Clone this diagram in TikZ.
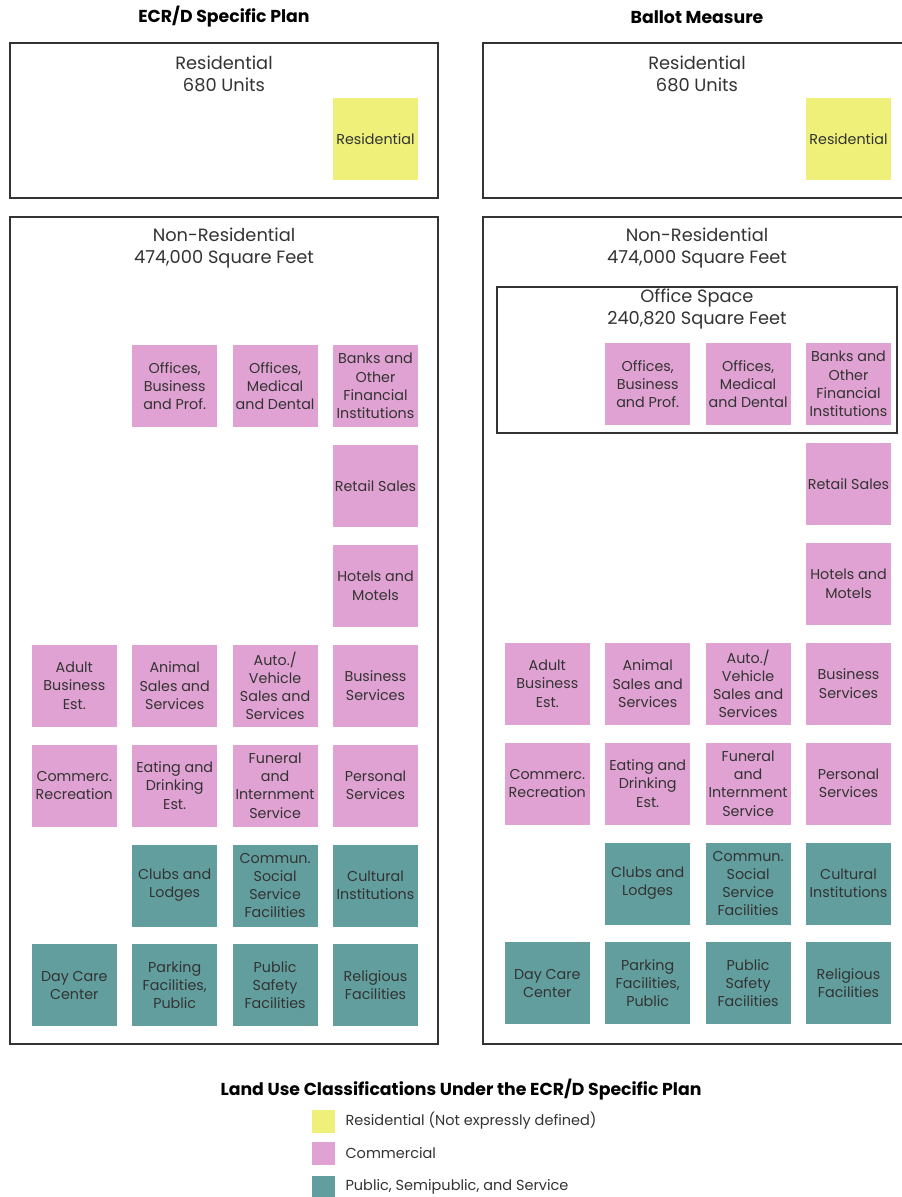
\documentclass[tikz,border=0pt]{standalone}
\usepackage{fontspec}
\setmainfont{Poppins}
\usetikzlibrary{positioning}

\definecolor{resyellow}{RGB}{238,240,122}
\definecolor{compink}{RGB}{224,162,210}
\definecolor{pubteal}{RGB}{98,158,158}
\definecolor{inkgray}{RGB}{51,51,51}

\tikzset{
  panel/.style={draw=inkgray, line width=1.6pt},
  tile/.style={minimum width=85pt, minimum height=82pt, inner sep=0pt, align=center,
    font=\fontsize{14.3}{18.2}\selectfont, text=inkgray},
  res/.style={tile, fill=resyellow},
  com/.style={tile, fill=compink},
  pub/.style={tile, fill=pubteal},
  head/.style={align=center, font=\fontsize{17.8}{22}\selectfont, text=inkgray},
  paneltitle/.style={font=\bfseries\fontsize{17.3}{20}\selectfont, text=black},
  swatch/.style={minimum size=23pt, inner sep=0pt},
  legtext/.style={anchor=west, font=\fontsize{14.5}{17}\selectfont, text=inkgray}
}

\begin{document}
\begin{tikzpicture}[x=1pt, y=-1pt, node distance=17.5pt and 15pt]
    \useasboundingbox[fill=white] (0,0) rectangle (902,1197);

    \node[paneltitle] (titleA) at (224,17) {ECR/D Specific Plan};
    \node[paneltitle] (titleB) at (697,17) {Ballot Measure};

    % the two panels share the same land use tiles
    \foreach \p/\dx/\dy/\rx in {A/0/0/438, B/473/-2/911} {
      \draw[panel] (10+\dx,43) rectangle (\rx,198);
      \draw[panel] (10+\dx,217) rectangle (\rx,1044);

      \node[head] (reshead\p) at (224+\dx,74) {Residential\\680 Units};
      \node[res] (resid\p) at (375.5+\dx,139) {Residential};

      \node[head] (nonreshead\p) at (224+\dx,248) {Non-Residential\\474,000 Square Feet};

      \node[com] (banks\p) at (375.5+\dx,386+\dy) {Banks and\\Other\\Financial\\Institutions};
      \node[com, left=of banks\p] (medical\p) {Offices,\\Medical\\and Dental};
      \node[com, left=of medical\p] (offices\p) {Offices,\\Business\\and Prof.};

      \node[com, below=of banks\p] (retail\p) {Retail Sales};
      \node[com, below=of retail\p] (hotels\p) {Hotels and\\Motels};

      \node[com, below=of hotels\p] (bizserv\p) {Business\\Services};
      \node[com, left=of bizserv\p] (auto\p) {Auto./\\Vehicle\\Sales and\\Services};
      \node[com, left=of auto\p] (animal\p) {Animal\\Sales and\\Services};
      \node[com, left=of animal\p] (adult\p) {Adult\\Business\\Est.};

      \node[com, below=of bizserv\p] (personal\p) {Personal\\Services};
      \node[com, left=of personal\p] (funeral\p) {Funeral\\and\\Internment\\Service};
      \node[com, left=of funeral\p] (eating\p) {Eating and\\Drinking\\Est.};
      \node[com, left=of eating\p] (recreat\p) {Commerc.\\Recreation};

      \node[pub, below=of personal\p] (cultural\p) {Cultural\\Institutions};
      \node[pub, left=of cultural\p] (social\p) {Commun.\\Social\\Service\\Facilities};
      \node[pub, left=of social\p] (clubs\p) {Clubs and\\Lodges};

      \node[pub, below=of cultural\p] (relig\p) {Religious\\Facilities};
      \node[pub, left=of relig\p] (safety\p) {Public\\Safety\\Facilities};
      \node[pub, left=of safety\p] (parking\p) {Parking\\Facilities,\\Public};
      \node[pub, left=of parking\p] (daycare\p) {Day Care\\Center};
    }

    % ballot measure caps office space
    \draw[panel, line width=1.3pt] (497,287) rectangle (897,433);
    \node[head] (officehead) at (697,309) {Office Space\\240,820 Square Feet};

    % legend
    \node[paneltitle] (legtitle) at (461,1090) {Land Use Classifications Under the ECR/D Specific Plan};
    \node[swatch, fill=resyellow] (swres) at (323.5,1121) {};
    \node[swatch, fill=compink] (swcom) at (323.5,1153) {};
    \node[swatch, fill=pubteal] (swpub) at (323.5,1187) {};
    \node[legtext] (legres) at (342,1121) {Residential (Not expressly defined)};
    \node[legtext] (legcom) at (342,1153) {Commercial};
    \node[legtext] (legpub) at (342,1187) {Public, Semipublic, and Service};
\end{tikzpicture}
\end{document}
